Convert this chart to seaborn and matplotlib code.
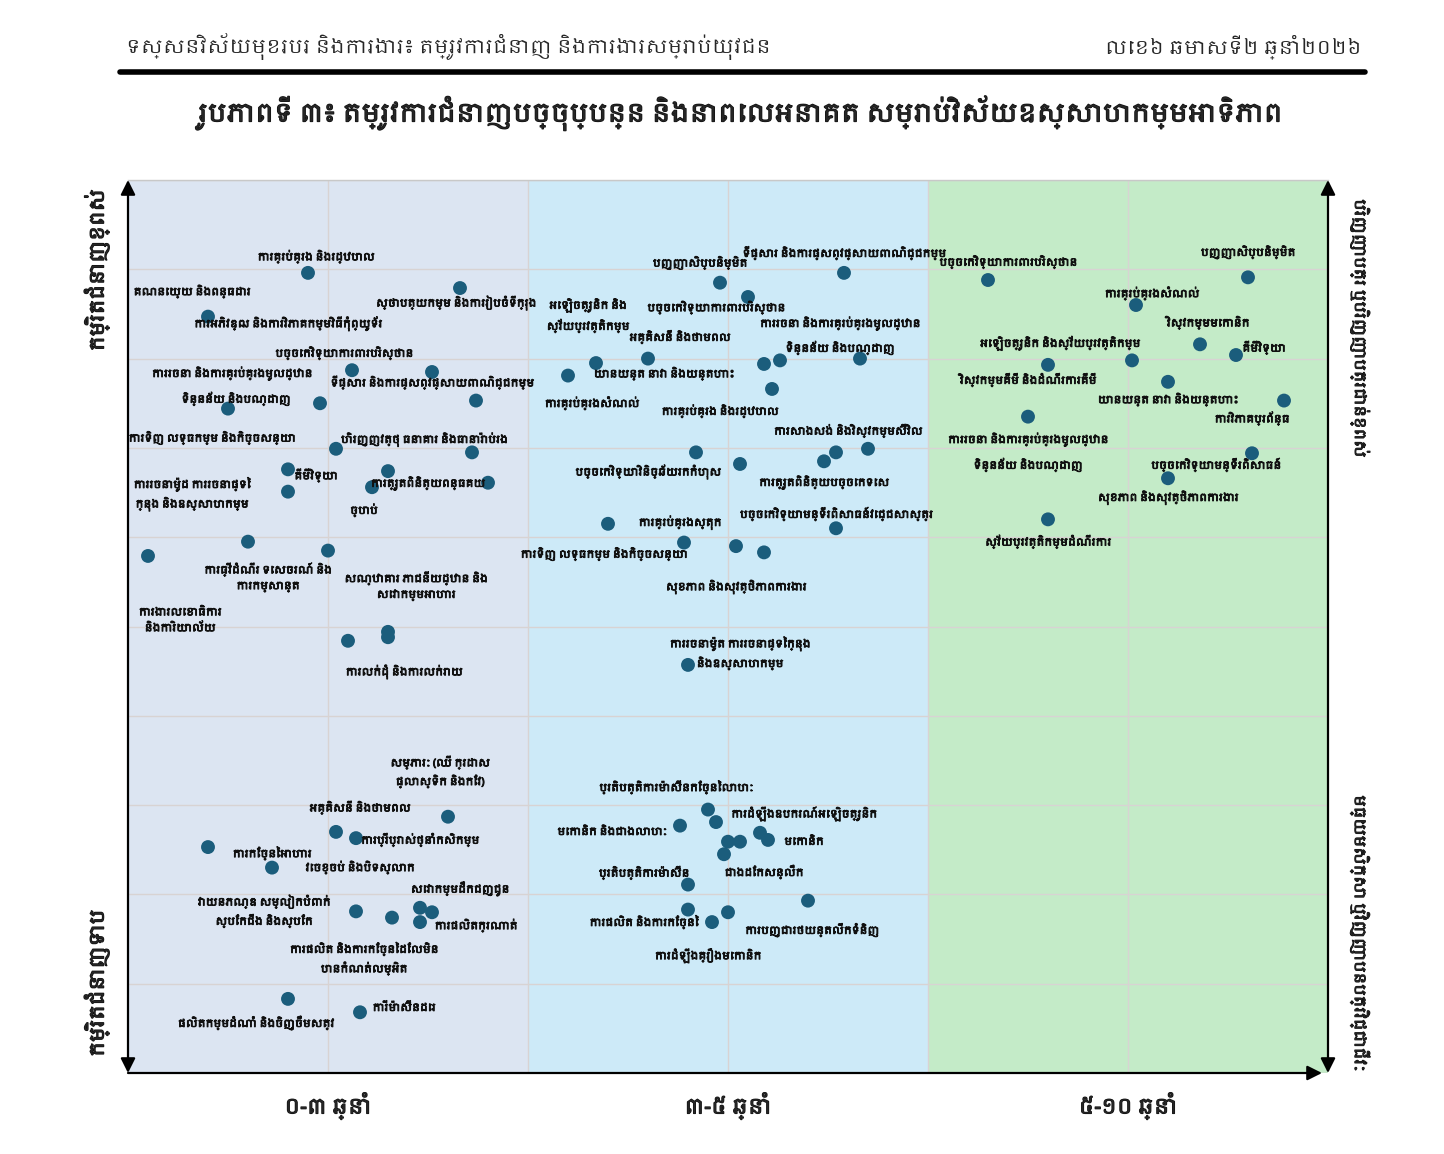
import matplotlib
matplotlib.use("Agg")
import matplotlib.pyplot as plt
from matplotlib import font_manager
import matplotlib.patheffects as pe
import numpy as np
import pandas as pd
import seaborn as sns

# ---------------- data ----------------
zone_labels = ["០-៣ ឆ្នាំ", "៣-៥ ឆ្នាំ", "៥-១០ ឆ្នាំ"]

# dots: horizon (0-3 scale, zones of width 1) and skill level (0-10)
dot_x_0_3 = [0.45, 0.83, 0.20, 0.56, 0.76, 0.48, 0.25, 0.87, 0.52, 0.86, 0.40, 0.40, 0.65, 0.61, 0.90,
             0.30, 0.05, 0.50, 0.55, 0.65, 0.65, 0.80, 0.52, 0.57, 0.20, 0.36, 0.57, 0.66, 0.73, 0.76,
             0.73, 0.40, 0.58]
dot_y_0_3 = [8.96, 8.79, 8.47, 7.87, 7.85, 7.50, 7.44, 7.53, 6.99, 6.95, 6.76, 6.51, 6.74, 6.56, 6.61,
             5.95, 5.79, 5.85, 4.84, 4.94, 4.88, 2.87, 2.70, 2.63, 2.53, 2.30, 1.81, 1.74, 1.85, 1.80,
             1.69, 0.83, 0.68]
dot_x_3_5 = [1.48, 1.79, 1.55, 1.17, 1.30, 1.10, 1.59, 1.63, 1.83, 1.61, 1.42, 1.53, 1.77, 1.85, 1.74,
             1.20, 1.77, 1.39, 1.52, 1.59, 1.40, 1.45, 1.47, 1.38, 1.58, 1.60, 1.50, 1.53, 1.49, 1.40,
             1.70, 1.40, 1.50, 1.46]
dot_y_3_5 = [8.85, 8.96, 8.69, 7.95, 8.00, 7.81, 7.94, 7.98, 8.00, 7.66, 6.95, 6.82, 6.95, 6.99, 6.85,
             6.15, 6.10, 5.94, 5.90, 5.83, 4.57, 2.95, 2.81, 2.77, 2.69, 2.61, 2.59, 2.59, 2.45, 2.11,
             1.93, 1.83, 1.80, 1.69]
dot_x_5_10 = [2.15, 2.80, 2.52, 2.68, 2.77, 2.51, 2.30, 2.60, 2.89, 2.25, 2.81, 2.60, 2.30]
dot_y_5_10 = [8.88, 8.91, 8.60, 8.16, 8.04, 7.98, 7.93, 7.74, 7.53, 7.35, 6.94, 6.66, 6.20]

occupations = [
    # 0-3 years
    "ការគ្រប់គ្រង និងរដ្ឋបាល", "គណនេយ្យ និងពន្ធដារ", "ស្ថាបត្យកម្ម និងការរៀបចំទីក្រុង",
    "ការអភិវឌ្ឍ និងការវិភាគកម្មវិធីកុំព្យូទ័រ", "បច្ចេកវិទ្យាការពារបរិស្ថាន",
    "ការរចនា និងការគ្រប់គ្រងមូលដ្ឋាន", "ទិន្នន័យ និងបណ្ដាញ", "ទីផ្សារ និងការផ្សព្វផ្សាយពាណិជ្ជកម្ម",
    "ការទិញ លទ្ធកម្ម និងកិច្ចសន្យា", "ហិរញ្ញវត្ថុ ធនាគារ និងធានារ៉ាប់រង",
    "ការរចនាម៉ូដ ការរចនាផ្ទៃ\nក្នុង និងឧស្សាហកម្ម", "គីមីវិទ្យា", "ការត្រួតពិនិត្យពន្ធគយ", "ច្បាប់",
    "ការធ្វើដំណើរ ទេសចរណ៍ និង\nការកម្សាន្ត", "សណ្ឋាគារ ភោជនីយដ្ឋាន និង\nសេវាកម្មអាហារ",
    "ការងារលេខាធិការ\nនិងការិយាល័យ", "ការលក់ដុំ និងការលក់រាយ",
    "សម្ភារៈ (ឈើ ក្រដាស\nផ្លាស្ទិក និងកែវ)", "អគ្គិសនី និងថាមពល", "ការប្រើប្រាស់ថ្នាំកសិកម្ម",
    "ការកែច្នៃអាហារ", "វាយនភណ្ឌ សម្លៀកបំពាក់\nស្បែកជើង និងស្បែក", "វេចខ្ចប់ និងបិទស្លាក",
    "សេវាកម្មដឹកជញ្ជូន", "ការផលិតក្រណាត់", "ការផលិត និងការកែច្នៃដែលមិន\nបានកំណត់លម្អិត",
    "ការីម៉ាស៊ីនដេរ", "ផលិតកម្មដំណាំ និងចិញ្ចឹមសត្វ",
    # 3-5 years
    "បញ្ញាសិប្បនិម្មិត", "ទីផ្សារ និងការផ្សព្វផ្សាយពាណិជ្ជកម្ម", "អេឡិចត្រូនិក និង\nស្វ័យប្រវត្តិកម្ម",
    "បច្ចេកវិទ្យាការពារបរិស្ថាន", "អគ្គិសនី និងថាមពល", "ការរចនា និងការគ្រប់គ្រងមូលដ្ឋាន",
    "ទិន្នន័យ និងបណ្ដាញ", "យានយន្ត នាវា និងយន្តហោះ", "ការគ្រប់គ្រងសំណល់", "ការគ្រប់គ្រង និងរដ្ឋបាល",
    "ការសាងសង់ និងវិស្វកម្មស៊ីវិល", "បច្ចេកវិទ្យាវិនិច្ឆ័យរកកំហុស", "ការត្រួតពិនិត្យបច្ចេកទេស",
    "បច្ចេកវិទ្យាមន្ទីរពិសោធន៍វេជ្ជសាស្ត្រ", "ការគ្រប់គ្រងស្តុក", "ការទិញ លទ្ធកម្ម និងកិច្ចសន្យា",
    "សុខភាព និងសុវត្ថិភាពការងារ", "ការរចនាម៉ូត ការរចនាផ្ទៃក្នុង\nនិងឧស្សាហកម្ម",
    "ប្រតិបត្តិការម៉ាស៊ីនកែច្នៃលោហៈ", "ការដំឡើងឧបករណ៍អេឡិចត្រូនិក", "មេកានិក និងជាងលោហៈ",
    "មេកានិក", "ប្រតិបត្តិការម៉ាស៊ីន", "ជាងដែកសន្លឹក", "ការផលិត និងការកែច្នៃ",
    "ការបញ្ជារថយន្តលើកទំនិញ", "ការដំឡើងគ្រឿងមេកានិក",
    # 5-10 years
    "បច្ចេកវិទ្យាការពារបរិស្ថាន", "បញ្ញាសិប្បនិម្មិត", "ការគ្រប់គ្រងសំណល់", "វិស្វកម្មមេកានិក",
    "អេឡិចត្រូនិក និងស្វ័យប្រវត្តិកម្ម", "គីមីវិទ្យា", "វិស្វកម្មគីមី និងដំណើរការគីមី",
    "យានយន្ត នាវា និងយន្តហោះ", "ការវិភាគប្រព័ន្ធ", "ការរចនា និងការគ្រប់គ្រងមូលដ្ឋាន",
    "ទិន្នន័យ និងបណ្ដាញ", "បច្ចេកវិទ្យាមន្ទីរពិសោធន៍", "សុខភាព និងសុវត្ថិភាពការងារ",
    "ស្វ័យប្រវត្តិកម្មដំណើរការ",
]

# ---------------- layout (label placement, data coords) ----------------
label_pos = [
    (0.47, 9.14), (0.16, 8.75), (0.82, 8.62), (0.40, 8.39), (0.54, 8.06), (0.26, 7.83), (0.27, 7.55),
    (0.76, 7.73), (0.21, 7.11), (0.74, 7.09), (0.16, 6.48), (0.47, 6.69), (0.75, 6.60), (0.59, 6.30),
    (0.35, 5.55), (0.72, 5.45), (0.13, 5.07), (0.69, 4.49), (0.78, 3.37), (0.58, 2.97), (0.73, 2.61),
    (0.36, 2.46), (0.34, 1.81), (0.58, 2.30), (0.83, 2.06), (0.87, 1.65), (0.59, 1.28), (0.69, 0.73),
    (0.32, 0.56),
    (1.43, 9.07), (1.79, 9.18), (1.15, 8.48), (1.47, 8.57), (1.38, 8.24), (1.78, 8.39), (1.78, 8.12),
    (1.34, 7.83), (1.16, 7.50), (1.48, 7.41), (1.80, 7.19), (1.30, 6.73), (1.74, 6.61), (1.77, 6.26),
    (1.38, 6.16), (1.19, 5.81), (1.52, 5.44), (1.53, 4.70), (1.37, 3.20), (1.69, 2.90), (1.21, 2.70),
    (1.69, 2.59), (1.29, 2.24), (1.59, 2.25), (1.29, 1.69), (1.71, 1.60), (1.45, 1.31),
    (2.20, 9.08), (2.80, 9.19), (2.56, 8.73), (2.70, 8.40), (2.33, 8.17), (2.84, 8.12), (2.25, 7.76),
    (2.60, 7.54), (2.81, 7.33), (2.25, 7.09), (2.25, 6.81), (2.72, 6.81), (2.60, 6.44), (2.30, 5.95),
]

# ---------------- fonts ----------------
khmer_fonts = sorted({f.name for f in font_manager.fontManager.ttflist if "khmer" in f.name.lower()})
sns.set_style("white")
families = (khmer_fonts[:1] if khmer_fonts else []) + ["DejaVu Sans"]
plt.rcParams["font.family"] = families
plt.rcParams["axes.unicode_minus"] = False

def heavy(w, col="#111111"):
    return [pe.withStroke(linewidth=w, foreground=col)]

W, H = 1444, 1154
fig = plt.figure(figsize=(W / 100, H / 100), dpi=100)
L, R, T, B = 128, 1328, 180, 1073
ax = fig.add_axes([L / W, 1 - B / H, (R - L) / W, (B - T) / H])

zone_colors = ["#dce5f2", "#cdeaf8", "#c4ebc8"]
for i, c in enumerate(zone_colors):
    ax.axvspan(i, i + 1, color=c, zorder=0, lw=0)

df = pd.DataFrame({
    "x": dot_x_0_3 + dot_x_3_5 + dot_x_5_10,
    "y": dot_y_0_3 + dot_y_3_5 + dot_y_5_10,
})
sns.scatterplot(data=df, x="x", y="y", ax=ax, s=100, color="#1b5d7c", edgecolor="none", zorder=3)

for txt, (tx, ty) in zip(occupations, label_pos):
    ax.text(tx, ty, txt, ha="center", va="center", fontsize=7.5, fontweight="bold",
            color="#111111", zorder=4, linespacing=1.6, path_effects=heavy(0.7))

ax.set_xlim(0, 3)
ax.set_ylim(0, 10)
ax.set_xticks([0.5, 1.5, 2.5])
ax.set_xticks([1, 2], minor=True)
ax.set_yticks(np.arange(0, 11, 1))
ax.set_xticklabels(zone_labels, fontsize=15, fontweight="bold")
for t in ax.get_xticklabels():
    t.set_path_effects(heavy(0.9))
ax.set_yticklabels([])
ax.tick_params(axis="x", which="both", length=0, pad=14)
ax.tick_params(axis="y", which="both", length=0)
ax.grid(True, which="both", color="#d8d3d3", lw=1.0, zorder=1)
ax.set_axisbelow(True)
ax.set_xlabel("")
ax.set_ylabel("")
for s in ["left", "right", "bottom"]:
    ax.spines[s].set_visible(False)
ax.spines["top"].set_color("#c8c8c8")
ax.spines["top"].set_linewidth(1)

arrow_kw = dict(color="black", lw=1.6, shrinkA=0, shrinkB=0, mutation_scale=22)
ax.annotate("", xy=(0, 1.0), xytext=(0, 0), xycoords="axes fraction",
            arrowprops=dict(arrowstyle="<|-|>", **arrow_kw), annotation_clip=False)
ax.annotate("", xy=(1, 1.0), xytext=(1, 0), xycoords="axes fraction",
            arrowprops=dict(arrowstyle="<|-|>", **arrow_kw), annotation_clip=False)
ax.annotate("", xy=(0.995, 0), xytext=(0, 0), xycoords="axes fraction",
            arrowprops=dict(arrowstyle="-|>", **arrow_kw), annotation_clip=False)

def px(x, y):
    return x / W, 1 - y / H

# side labels
fig.text(*px(97, 270), "កម្រិតជំនាញខ្ពស់", rotation=90, ha="center", va="center",
         fontsize=14, fontweight="bold", path_effects=heavy(1.0))
fig.text(*px(97, 983), "កម្រិតជំនាញទាប", rotation=90, ha="center", va="center",
         fontsize=14, fontweight="bold", path_effects=heavy(1.0))
fig.text(*px(1360, 328), "បរិញ្ញាបត្រ ឬបរិញ្ញាបត្រជាន់ខ្ពស់", rotation=-90, ha="center", va="center",
         fontsize=11, fontweight="bold", path_effects=heavy(0.8))
fig.text(*px(1360, 933), "មធ្យមសិក្សា ឬវិញ្ញាបនបត្រវិជ្ជាជីវៈ", rotation=-90, ha="center", va="center",
         fontsize=11, fontweight="bold", path_effects=heavy(0.8))

# header
fig.text(*px(126, 47), "ទស្សនវិស័យមុខរបរ និងការងារ៖ តម្រូវការជំនាញ និងការងារសម្រាប់យុវជន",
         ha="left", va="center", fontsize=14, style="italic")
fig.text(*px(1362, 47), "លេខ៦ ឆមាសទី២ ឆ្នាំ២០២៦", ha="right", va="center", fontsize=14, style="italic")
fig.add_artist(plt.Line2D([120 / W, 1365 / W], [1 - 72 / H, 1 - 72 / H], color="black", lw=4))
fig.text(*px(740, 113), "រូបភាពទី ៣៖ តម្រូវការជំនាញបច្ចុប្បន្ន និងនាពេលអនាគត សម្រាប់វិស័យឧស្សាហកម្មអាទិភាព",
         ha="center", va="center", fontsize=18, fontweight="bold", path_effects=heavy(1.0))

fig.savefig("out.png", dpi=100, facecolor="white")
